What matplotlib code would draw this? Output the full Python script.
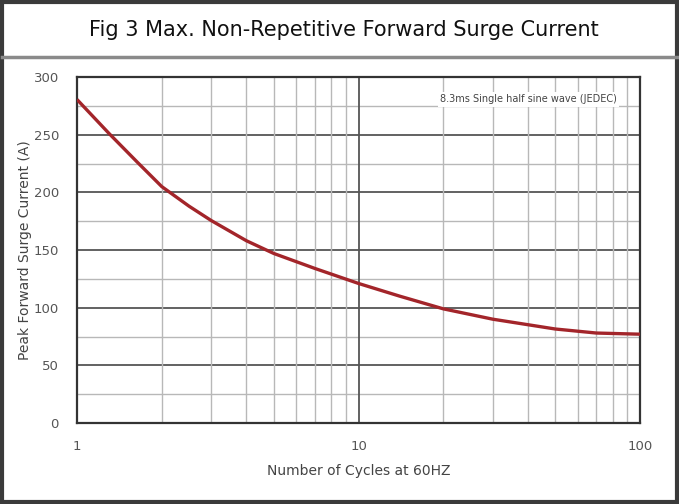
"""Fig 3: max. non-repetitive forward surge current vs number of cycles."""
import matplotlib
matplotlib.use("Agg")
import matplotlib.pyplot as plt
from matplotlib.patches import Rectangle
from matplotlib.lines import Line2D
from matplotlib.ticker import FixedLocator, NullFormatter

# values
cycles = [1, 1.3, 1.64, 2, 2.5, 3, 4, 5, 7, 10, 14, 20, 30, 50, 70, 100]
current = [280.5, 251, 226, 205, 188, 175.5, 158, 147, 134, 121, 110, 99, 90, 81.5, 78, 77]

x_ticks = [1, 10, 100]
x_tick_labels = ["1", "10", "100"]
y_ticks = [0, 50, 100, 150, 200, 250, 300]
y_minor = [25, 75, 125, 175, 225, 275]
x_minor = [2, 3, 4, 5, 6, 7, 8, 9, 20, 30, 40, 50, 60, 70, 80, 90]

title = "Fig 3 Max. Non-Repetitive Forward Surge Current"
note = "8.3ms Single half sine wave (JEDEC)"

plt.rcParams['font.family'] = ['DejaVu Sans']

fig = plt.figure(figsize=(6.79, 5.04), dpi=100)
fig.patch.set_facecolor('white')

# outer frame and title separator
fig.add_artist(Rectangle((0.003, 0.004), 0.994, 0.992, transform=fig.transFigure,
                         fill=False, edgecolor='#3a3a3a', linewidth=3))
fig.add_artist(Line2D([0.003, 0.997], [1 - 57 / 504, 1 - 57 / 504], transform=fig.transFigure,
                      color='#8a8a8a', linewidth=2.5))
fig.text(344 / 679, 1 - 30 / 504, title, ha='center', va='center', fontsize=15, color='#111111')

ax = fig.add_axes([77 / 679, 1 - 423 / 504, (640 - 77) / 679, (423 - 77) / 504])
ax.set_xscale('log')
ax.set_xlim(1, 100)
ax.set_ylim(0, 300)

# grid lines
for y in y_minor:
    ax.axhline(y, color='#b8b8b8', linewidth=1.0, zorder=1)
for y in y_ticks[1:-1]:
    ax.axhline(y, color='#555555', linewidth=1.3, zorder=1)
for x in x_minor:
    ax.axvline(x, color='#b8b8b8', linewidth=1.0, zorder=1)
ax.axvline(10, color='#555555', linewidth=1.3, zorder=1)

ax.plot(cycles, current, color='#a3252a', linewidth=2.4, zorder=3,
        solid_capstyle='butt', solid_joinstyle='round')

ax.xaxis.set_major_locator(FixedLocator(x_ticks))
ax.xaxis.set_minor_locator(FixedLocator(x_minor))
ax.xaxis.set_minor_formatter(NullFormatter())
ax.set_xticklabels(x_tick_labels)
ax.set_yticks(y_ticks)
ax.tick_params(axis='both', which='both', length=0, labelsize=9.5, labelcolor='#555555')
ax.tick_params(axis='x', pad=12)
ax.tick_params(axis='y', pad=13)

for s in ax.spines.values():
    s.set_color('#333333')
    s.set_linewidth(1.6)

ax.set_xlabel("Number of Cycles at 60HZ", fontsize=10, color='#444444', labelpad=8)
ax.set_ylabel("Peak Forward Surge Current (A)", fontsize=10, color='#444444', labelpad=1)

ax.text(0.959, 0.935, note, transform=ax.transAxes, ha='right', va='center',
        fontsize=7, color='#444444', zorder=4,
        bbox=dict(facecolor='white', edgecolor='none', pad=1.5))

fig.savefig("out.png", dpi=100)
